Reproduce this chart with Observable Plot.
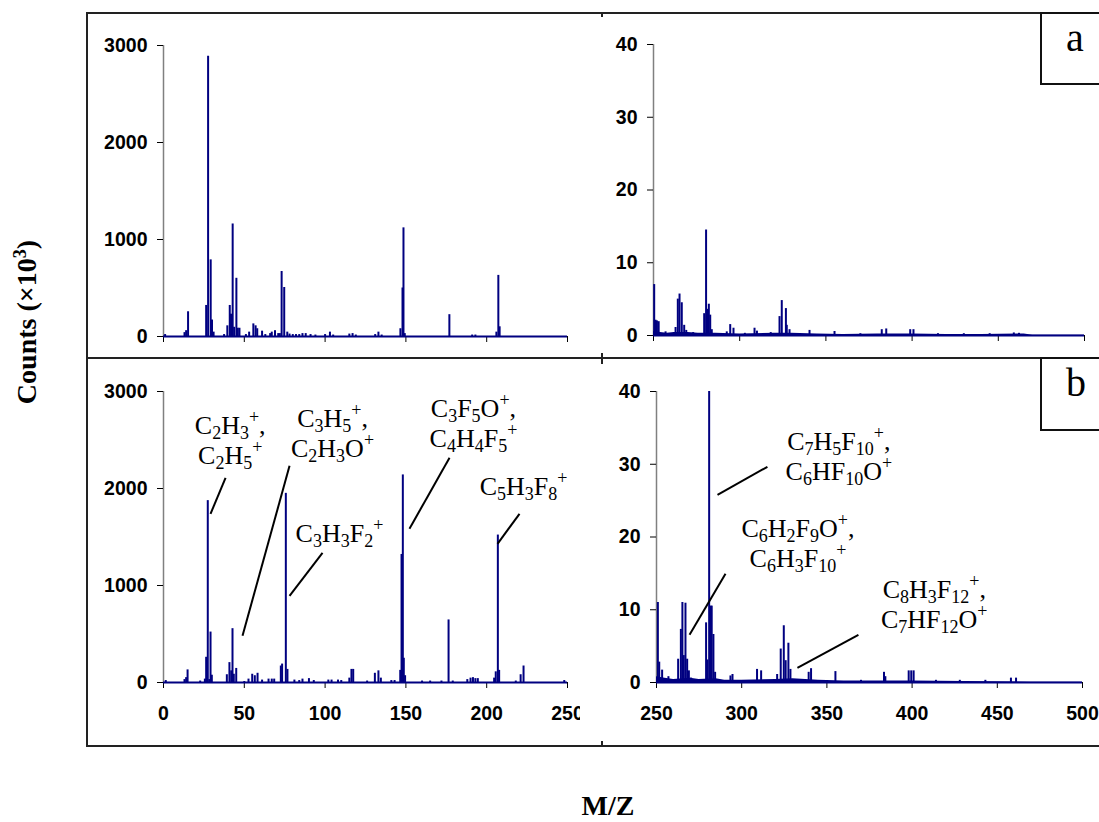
<!DOCTYPE html>
<html>
<head>
<meta charset="utf-8">
<script src="https://cdn.jsdelivr.net/npm/d3@7"></script>
<script src="https://cdn.jsdelivr.net/npm/@observablehq/plot@0.6"></script>
<style>
  html, body { margin: 0; padding: 0; background: #fff; }
  #chart { position: relative; width: 1099px; height: 822px; overflow: hidden; background: #fff; }
  .panel { position: absolute; }
  .hline, .vline { position: absolute; background: #222; z-index: 5; }
  .box { position: absolute; border: 2px solid #111; box-sizing: border-box; background: #fff; z-index: 6;
         font-family: "Liberation Serif", "Times New Roman", serif; font-size: 40px; color: #000; }
  .box span { position: absolute; left: 24px; top: 4px; line-height: 1; }
  .ylab { position: absolute; left: 27px; top: 322px; transform: translate(-50%, -50%) rotate(-90deg);
          font-family: "Liberation Serif", "Times New Roman", serif; font-weight: bold; font-size: 28px; white-space: nowrap; line-height: 1.1; }
  .xlab { position: absolute; left: 608px; top: 792px; transform: translateX(-50%);
          font-family: "Liberation Serif", "Times New Roman", serif; font-weight: bold; font-size: 28px; line-height: 1; }
  .plot [aria-label="y-axis tick"], .plot [aria-label="x-axis tick"] { stroke: #808080; stroke-width: 1.5px; }
</style>
</head>
<body>
<div id="chart"></div>
<script>
// ---------------- data ----------------
// Panel a, m/z 0-250 (counts ×10^3)
const aLowMz     = [1, 13, 14, 15.2, 26.4, 27.6, 29.2, 30, 31, 37.5, 39.5, 41, 41.8, 42.8, 43.7, 45.1, 46, 47, 51, 53, 55.6, 57, 58, 61, 63, 66, 67, 69, 71, 72, 73.1, 74.7, 76.6, 78, 80, 82, 84, 86, 88, 91, 94, 100, 103, 105, 115, 117, 119, 131, 133, 135, 146.6, 147.9, 148.5, 149.3, 176.9, 191, 193, 206, 207.2, 208];
const aLowCounts = [20, 40, 60, 255, 320, 2890, 790, 170, 45, 20, 110, 320, 230, 1160, 95, 600, 85, 85, 20, 45, 130, 110, 80, 55, 20, 30, 45, 60, 30, 30, 670, 505, 45, 25, 20, 20, 20, 30, 30, 20, 15, 20, 45, 15, 25, 30, 15, 20, 45, 15, 80, 500, 1120, 30, 225, 15, 15, 45, 630, 100];

// Panel a, m/z 250-500
const aHighMz     = [250.4, 251.2, 252, 253, 257, 262.8, 264.1, 265.1, 266.4, 267.8, 269, 273, 279.4, 280.5, 281.3, 282.1, 282.9, 283.8, 292.5, 294.5, 296.4, 303, 308.6, 310, 318, 323.1, 324.4, 326.8, 327.3, 328.9, 340.5, 355, 370, 382.4, 385, 398.9, 400.8, 415, 430, 445, 459, 462];
const aHighCounts = [7.0, 2.1, 2.0, 1.9, 0.5, 1.1, 5.0, 5.7, 4.5, 1.4, 0.7, 0.4, 3.0, 14.5, 3.6, 4.3, 2.8, 0.8, 0.5, 1.5, 1.0, 0.3, 1.0, 0.6, 0.4, 2.6, 4.8, 3.7, 1.4, 0.8, 0.7, 0.55, 0.25, 0.8, 0.9, 0.8, 0.8, 0.25, 0.25, 0.25, 0.35, 0.3];
const aFloorMz    = [250, 254, 258, 262, 270, 276, 286, 300, 320, 330, 345, 360, 380, 400, 420, 440, 465, 470, 500];
const aFloorVals  = [0.6, 0.4, 0.3, 0.4, 0.4, 0.3, 0.3, 0.2, 0.3, 0.3, 0.2, 0.15, 0.2, 0.2, 0.15, 0.15, 0.2, 0.05, 0.05];

// Panel b, m/z 0-250
const bLowMz     = [1.4, 13, 14, 14.9, 22.7, 25.6, 26.4, 27.4, 28.3, 29.1, 29.9, 39.2, 40.8, 41.9, 42.7, 43.5, 45, 50, 52.6, 54.9, 56.5, 58.2, 61, 65, 67, 68.5, 72.6, 73.4, 75.7, 76.7, 81, 84, 86, 90, 93, 102, 104, 108, 110, 115, 116.3, 117.4, 126, 130.8, 133, 134.5, 141, 143, 146.5, 147.3, 148.1, 148.7, 149.5, 160, 165, 172, 176.4, 179, 188, 190, 191.5, 193, 194.5, 204.6, 205.6, 206.9, 207.7, 218, 221, 222.8, 248];
const bLowCounts = [20, 30, 50, 130, 15, 35, 260, 1875, 30, 520, 75, 80, 205, 120, 555, 85, 145, 10, 35, 85, 70, 95, 25, 35, 35, 35, 170, 190, 1950, 135, 25, 20, 35, 40, 20, 25, 25, 25, 20, 45, 135, 135, 15, 95, 120, 45, 20, 20, 125, 1320, 2140, 250, 70, 15, 15, 15, 645, 15, 30, 45, 50, 40, 40, 45, 110, 1520, 125, 15, 80, 170, 20];

// Panel b, m/z 250-500
const bHighMz     = [250.8, 251.6, 253.3, 257, 262.7, 264.3, 265.2, 266, 267, 268, 269, 270.3, 279.1, 279.9, 280.9, 281.7, 282.4, 283.4, 284.4, 293.4, 294.6, 309, 311.4, 320.8, 322.9, 324.7, 325.8, 327.4, 328.6, 339.3, 340.7, 355, 370, 383.5, 384.3, 398, 399.5, 400.9, 414, 428, 443, 458, 461];
const bHighCounts = [11.0, 2.8, 1.7, 0.8, 3.2, 7.3, 11.0, 3.7, 10.9, 3.2, 1.6, 0.6, 8.2, 3.1, 40, 10.5, 10.5, 6.6, 1.4, 0.9, 1.1, 1.8, 1.6, 1.1, 4.6, 7.8, 3.0, 5.4, 1.8, 1.4, 1.9, 1.5, 0.3, 1.4, 0.8, 1.6, 1.6, 1.6, 0.3, 0.3, 0.3, 0.6, 0.6];
const bFloorMz    = [250, 255, 260, 270, 275, 285, 290, 300, 320, 330, 345, 360, 400, 470, 500];
const bFloorVals  = [0.8, 0.6, 0.4, 0.6, 0.4, 0.5, 0.3, 0.3, 0.4, 0.5, 0.3, 0.2, 0.2, 0.05, 0.05];

// Ticks
const lowXTicks  = [0, 50, 100, 150, 200, 250];
const highXTicks = [250, 300, 350, 400, 450, 500];
const lowYTicks  = [0, 1000, 2000, 3000];
const highYTicks = [0, 10, 20, 30, 40];

// Annotations: label anchor (m/z, counts) at first-line baseline centre
const bLowLabels  = [
  {mz: 41.6,  counts: 2554, lines: ["C_2H_3^+,", "C_2H_5^+"]},
  {mz: 104.9, counts: 2626, lines: ["C_3H_5^+,", "C_2H_3O^+"]},
  {mz: 192.1, counts: 2729, lines: ["C_3F_5O^+,", "C_4H_4F_5^+"]},
  {mz: 109.2, counts: 1440, lines: ["C_3H_3F_2^+"]},
  {mz: 223.1, counts: 1925, lines: ["C_5H_3F_8^+"]}
];
const bLowLeaders = [
  {x1: 38.4, y1: 2110, x2: 29.1, y2: 1739},
  {x1: 78.0, y1: 2234, x2: 48.9, y2: 481},
  {x1: 177.0, y1: 2316, x2: 152.2, y2: 1585},
  {x1: 98.4, y1: 1337, x2: 78.0, y2: 894},
  {x1: 220.3, y1: 1739, x2: 206.7, y2: 1430}
];
const bHighLabels = [
  {mz: 357.3, counts: 31.85, lines: ["C_7H_5F_10^+,", "C_6HF_10O^+"]},
  {mz: 333.3, counts: 19.89, lines: ["C_6H_2F_9O^+,", "C_6H_3F_10^+"]},
  {mz: 413.3, counts: 11.5,  lines: ["C_8H_3F_12^+,", "C_7HF_12O^+"]}
];
const bHighLeaders = [
  {x1: 315.1, y1: 29.65, x2: 285.8, y2: 25.8},
  {x1: 290.5, y1: 14.94, x2: 269.4, y2: 6.56},
  {x1: 368.5, y1: 6.56,  x2: 332.7, y2: 2.02}
];

// ---------------- drawing ----------------
const NAVY = "#000080";
const chart = document.getElementById("chart");

function zipPeaks(mz, c) { return mz.map((m, i) => ({mz: m, counts: c[i]})); }

function panel(o) {
  const peaks = zipPeaks(o.mz, o.counts);
  const marks = [
    Plot.ruleX([o.xDomain[0]], {y1: o.yDomain[0], y2: o.yDomain[1], stroke: "#808080", strokeWidth: 1.5}),
    Plot.axisY({ticks: o.yTicks, tickSize: 6, tickPadding: 10, tickFormat: d3.format("d"), label: null}),
    Plot.axisX({ticks: o.xTicks, tickSize: 6, tickPadding: 18, label: null,
                tickFormat: o.showX ? d3.format("d") : () => ""})
  ];
  if (o.floorMz) marks.push(Plot.areaY(zipPeaks(o.floorMz, o.floorVals), {x: "mz", y: "counts", fill: NAVY}));
  marks.push(Plot.ruleY([0], {stroke: NAVY, strokeWidth: 2}));
  marks.push(Plot.ruleX(peaks, {x: "mz", y1: 0, y2: "counts", stroke: NAVY, strokeWidth: 2}));
  if (o.leaders) marks.push(Plot.link(o.leaders, {x1: "x1", y1: "y1", x2: "x2", y2: "y2", stroke: "#000", strokeWidth: 2}));

  const plot = Plot.plot({
    width: o.width, height: o.height,
    marginLeft: o.ml, marginRight: o.mr, marginTop: o.mt, marginBottom: o.mb,
    x: {domain: o.xDomain},
    y: {domain: o.yDomain},
    style: {background: "transparent", fontFamily: "'Liberation Sans', Arial, sans-serif",
            fontSize: "19.5px", fontWeight: "bold", color: "#000", overflow: o.clip ? "hidden" : "visible"},
    marks
  });
  plot.classList.add("panel");
  plot.style.left = o.left + "px";
  plot.style.top = o.top + "px";
  chart.appendChild(plot);

  if (o.labels) addLabels(plot, o.labels);
  return plot;
}

function scaleFn(plot, name) {
  const s = plot.scale(name);
  if (s && typeof s.apply === "function") return v => s.apply(v);
  const f = d3.scaleLinear(s.domain, s.range);
  return v => f(v);
}

function addLabels(plot, labels) {
  const fx = scaleFn(plot, "x"), fy = scaleFn(plot, "y");
  const svg = d3.select(plot);
  const g = svg.append("g").attr("aria-label", "annotations");
  labels.forEach(a => {
    const x = fx(a.mz), y = fy(a.counts);
    a.lines.forEach((line, i) => {
      const t = g.append("text")
        .attr("text-anchor", "middle")
        .attr("fill", "#000")
        .attr("x", x).attr("y", y + i * 30)
        .style("font-family", "'Liberation Serif', 'Times New Roman', serif")
        .style("font-size", "26px")
        .style("font-weight", "normal");
      let off = 0;
      const re = /_(\d+)|\^(\+)|([^_^]+)/g;
      let m;
      while ((m = re.exec(line)) !== null) {
        let txt, target, size;
        if (m[1] !== undefined) { txt = m[1]; target = 5; size = "18px"; }
        else if (m[2] !== undefined) { txt = m[2]; target = -11; size = "18px"; }
        else { txt = m[3]; target = 0; size = "26px"; }
        t.append("tspan").attr("dy", target - off).style("font-size", size).text(txt);
        off = target;
      }
    });
  });
}

panel({mz: aLowMz, counts: aLowCounts, xDomain: [0, 250], yDomain: [0, 3000], xTicks: lowXTicks, yTicks: lowYTicks,
       showX: false, left: 88, top: 14, width: 512, height: 344, ml: 75, mr: 33, mt: 31, mb: 22});
panel({mz: aHighMz, counts: aHighCounts, floorMz: aFloorMz, floorVals: aFloorVals, xDomain: [250, 500], yDomain: [0, 40],
       xTicks: highXTicks, yTicks: highYTicks, showX: false, left: 601, top: 14, width: 498, height: 344, ml: 52, mr: 15, mt: 30, mb: 23});
panel({mz: bLowMz, counts: bLowCounts, xDomain: [0, 250], yDomain: [0, 3000], xTicks: lowXTicks, yTicks: lowYTicks,
       showX: true, clip: true, left: 88, top: 359, width: 492, height: 387, ml: 75, mr: 13, mt: 32, mb: 64,
       labels: bLowLabels, leaders: bLowLeaders});
panel({mz: bHighMz, counts: bHighCounts, floorMz: bFloorMz, floorVals: bFloorVals, xDomain: [250, 500], yDomain: [0, 40],
       xTicks: highXTicks, yTicks: highYTicks, showX: true, left: 601, top: 359, width: 498, height: 387, ml: 55, mr: 17, mt: 32, mb: 64,
       labels: bHighLabels, leaders: bHighLeaders});

// frame lines
function line(cls, l, t, w, h) {
  const d = document.createElement("div");
  d.className = cls;
  Object.assign(d.style, {left: l + "px", top: t + "px", width: w + "px", height: h + "px"});
  chart.appendChild(d);
}
line("hline", 87, 12, 1012, 2);
line("hline", 87, 357, 1012, 2);
line("hline", 87, 745, 1012, 2);
line("vline", 86, 12, 2, 735);
line("vline", 601, 12, 2, 5);
line("vline", 601, 353, 2, 11);
line("vline", 601, 741, 2, 5);

function box(letter, top, h) {
  const d = document.createElement("div");
  d.className = "box";
  Object.assign(d.style, {left: "1040px", top: top + "px", width: "70px", height: h + "px"});
  const s = document.createElement("span");
  s.textContent = letter;
  d.appendChild(s);
  chart.appendChild(d);
}
box("a", 12, 73);
box("b", 357, 74);

const yl = document.createElement("div");
yl.className = "ylab";
yl.innerHTML = "Counts (×10<sup style='font-size:0.65em;vertical-align:0.55em;line-height:0'>3</sup>)";
chart.appendChild(yl);

const xl = document.createElement("div");
xl.className = "xlab";
xl.textContent = "M/Z";
chart.appendChild(xl);
</script>
</body>
</html>
